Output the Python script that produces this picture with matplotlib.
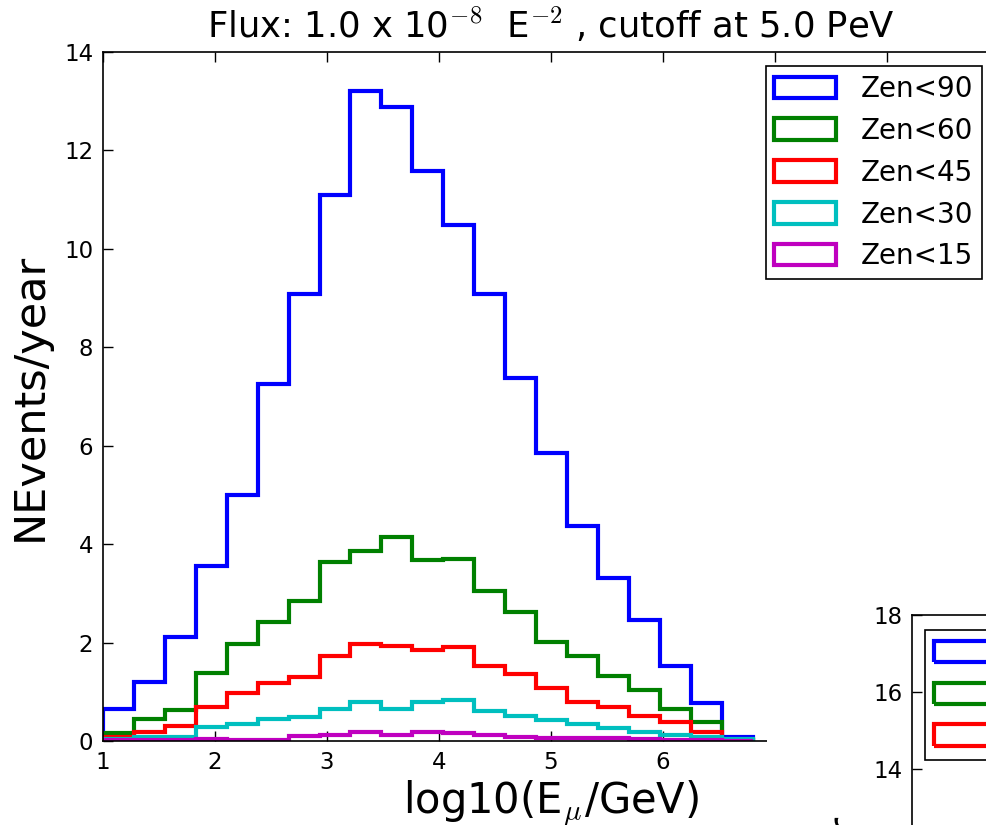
import numpy as np
import matplotlib.pyplot as plt
from matplotlib.patches import Rectangle, Patch

plt.rcParams['mathtext.fontset'] = 'cm'

# histogram bins in log10(E_mu/GeV)
edges = np.linspace(1.0, 6.8, 22)

labels = ["Zen<90", "Zen<60", "Zen<45", "Zen<30", "Zen<15"]
colors = ["b", "g", "r", "c", "m"]

zen90 = [0.66, 1.19, 2.12, 3.55, 5.0, 7.26, 9.08, 11.1, 13.2, 12.89, 11.58,
         10.49, 9.08, 7.38, 5.85, 4.36, 3.31, 2.46, 1.53, 0.77, 0.09]
zen60 = [0.16, 0.45, 0.63, 1.38, 1.97, 2.42, 2.85, 3.64, 3.87, 4.14, 3.67,
         3.70, 3.04, 2.62, 2.02, 1.72, 1.33, 1.04, 0.65, 0.38, 0.03]
zen45 = [0.09, 0.19, 0.31, 0.69, 0.97, 1.17, 1.31, 1.72, 1.97, 1.93, 1.85,
         1.92, 1.53, 1.36, 1.07, 0.80, 0.70, 0.51, 0.38, 0.19, 0.03]
zen30 = [0.05, 0.08, 0.09, 0.28, 0.35, 0.44, 0.48, 0.65, 0.80, 0.65, 0.79,
         0.83, 0.60, 0.51, 0.43, 0.35, 0.27, 0.19, 0.12, 0.09, 0.04]
zen15 = [0.03, 0.03, 0.03, 0.05, 0.02, 0.03, 0.10, 0.13, 0.19, 0.13, 0.19,
         0.17, 0.13, 0.08, 0.07, 0.07, 0.06, 0.05, 0.03, 0.02, 0.01]
series = [zen90, zen60, zen45, zen30, zen15]

W, H = 987, 825
fig = plt.figure(figsize=(W / 100, H / 100), dpi=100)
fig.patch.set_facecolor("white")

ax = fig.add_axes([103 / W, 84 / H, 896 / W, 689 / H])
centers = 0.5 * (edges[1:] + edges[:-1])
for vals, lab, col in zip(series, labels, colors):
    ax.hist(centers, bins=edges, weights=vals, histtype="step",
            color=col, lw=3, label=lab)

ax.set_xlim(1, 9)
ax.set_ylim(0, 14)
ax.set_xticks(range(1, 9))
ax.set_yticks(range(0, 15, 2))
ax.tick_params(direction="in", top=True, right=True, length=7, width=1,
               labelsize=16.5, pad=7)
for s in ax.spines.values():
    s.set_linewidth(1.2)

ax.set_title(r"Flux: 1.0 x 10$^{-8}$  E$^{-2}$ , cutoff at 5.0 PeV",
             fontsize=25.5, pad=10)
ax.set_xlabel(r"log10(E$_\mu$/GeV)", fontsize=30, labelpad=3)
ax.set_ylabel("NEvents/year", fontsize=31, labelpad=10)

leg_kw = dict(borderaxespad=0, fontsize=20, fancybox=False, framealpha=1,
              edgecolor="black", handlelength=2.2, handleheight=0.8,
              handletextpad=0.9, labelspacing=0.5, borderpad=0.32)
leg = ax.legend(loc="upper right", bbox_to_anchor=(982 / W, 1 - 66 / H),
                bbox_transform=fig.transFigure, **leg_kw)
leg.get_frame().set_linewidth(1.2)

# the next panel sits over the lower right corner
fig.add_artist(Rectangle((767 / W, 0), 1, 1 - 400 / H, transform=fig.transFigure,
                         facecolor="white", edgecolor="none", zorder=1))

ax2 = fig.add_axes([912 / W, (H - 615 - 693) / H, 0.5, 693 / H], zorder=2)
ax2.set_ylim(0, 18)
ax2.set_yticks([14, 16, 18])
ax2.set_xticks([])
ax2.tick_params(direction="in", length=7, width=1, labelsize=16.5, pad=7)
for s in ax2.spines.values():
    s.set_linewidth(1.2)
handles = [Patch(facecolor="none", edgecolor=c, lw=3) for c in colors[:3]]
leg2 = ax2.legend(handles, labels[:3], loc="upper left",
                  bbox_to_anchor=(925 / W, 1 - 630 / H),
                  bbox_transform=fig.transFigure, **leg_kw)
leg2.get_frame().set_linewidth(1.2)
fig.text(843 / W, 1 - 812 / H, "NEvents/year", rotation=90, fontsize=31,
         ha="center", va="top", zorder=3)

fig.savefig("out.png", dpi=100)
